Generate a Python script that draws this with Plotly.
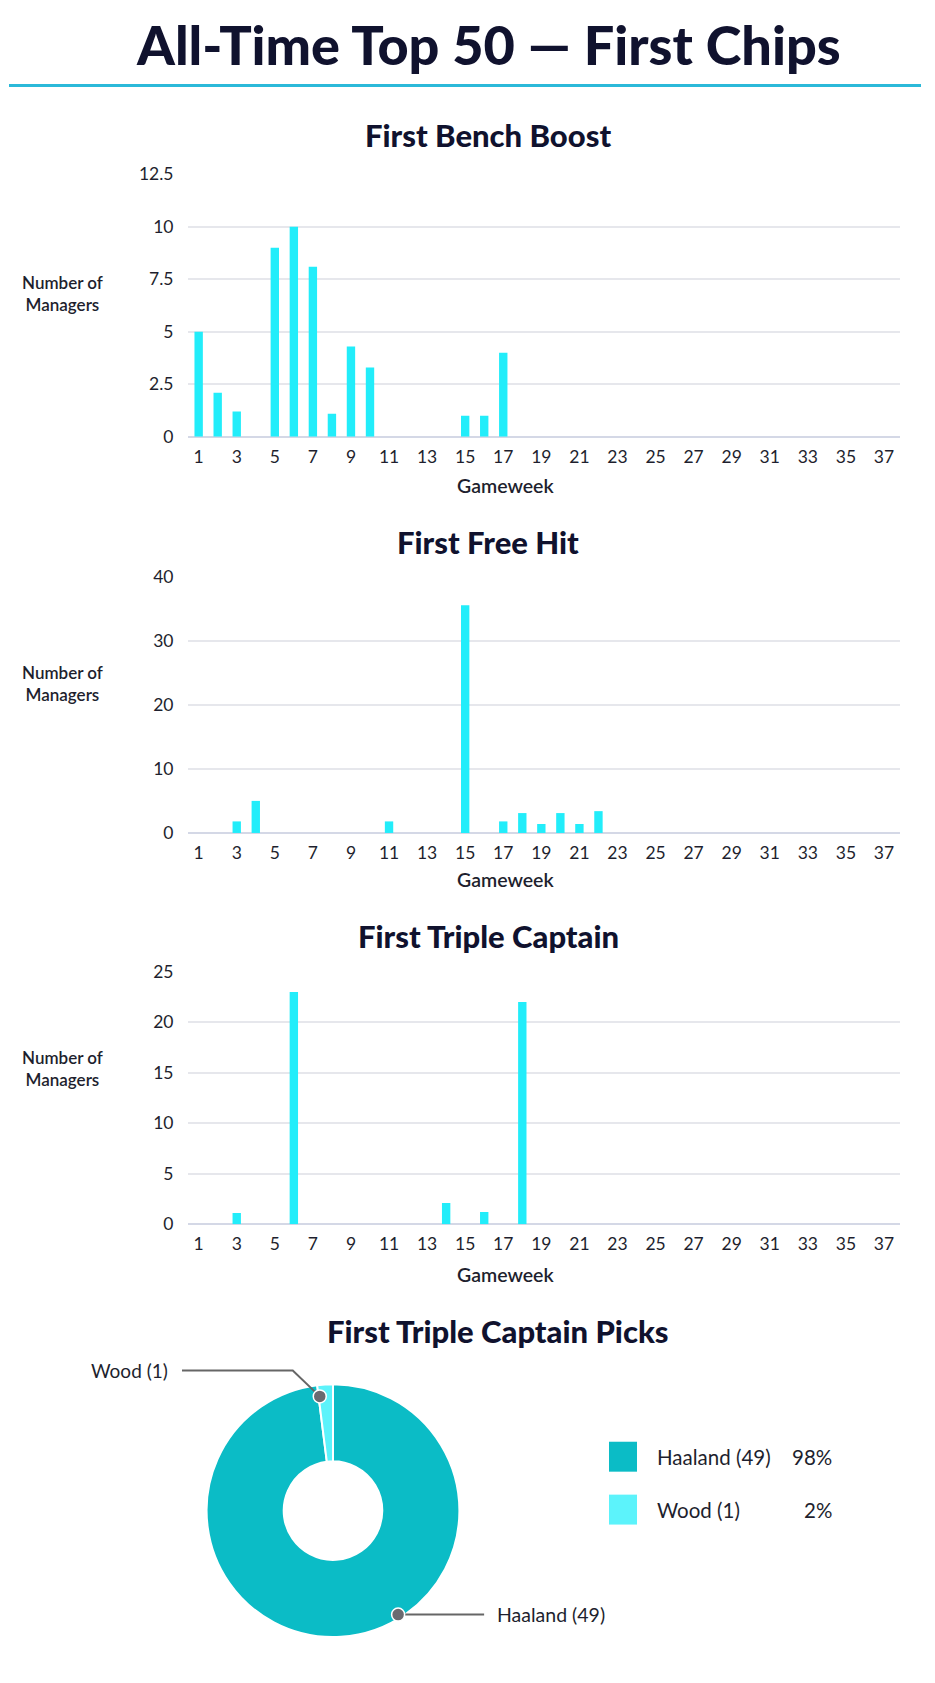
import math
import plotly.graph_objects as go

W, H = 935, 1683

# ---------------- data ----------------
gameweeks = [1, 2, 3, 4, 5, 6, 7, 8, 9, 10, 11, 12, 13, 14, 15, 16, 17, 18, 19,
             20, 21, 22, 23, 24, 25, 26, 27, 28, 29, 30, 31, 32, 33, 34, 35, 36, 37, 38]

bench_boost = [5, 2.1, 1.2, 0, 9, 10, 8.1, 1.1, 4.3, 3.3, 0, 0, 0, 0, 1, 1, 4, 0, 0,
               0, 0, 0, 0, 0, 0, 0, 0, 0, 0, 0, 0, 0, 0, 0, 0, 0, 0, 0]
free_hit = [0, 0, 1.8, 5, 0, 0, 0, 0, 0, 0, 1.8, 0, 0, 0, 35.5, 0, 1.8, 3.1, 1.4,
            3.1, 1.4, 3.4, 0, 0, 0, 0, 0, 0, 0, 0, 0, 0, 0, 0, 0, 0, 0, 0]
triple_captain = [0, 0, 1.1, 0, 0, 23, 0, 0, 0, 0, 0, 0, 0, 2.1, 0, 1.2, 0, 22, 0,
                  0, 0, 0, 0, 0, 0, 0, 0, 0, 0, 0, 0, 0, 0, 0, 0, 0, 0, 0]

x_tick_vals = [1, 3, 5, 7, 9, 11, 13, 15, 17, 19, 21, 23, 25, 27, 29, 31, 33, 35, 37]

chart_titles = ["First Bench Boost", "First Free Hit", "First Triple Captain"]
y_maxes = [12.5, 40, 25]
y_dticks = [2.5, 10, 5]

tc_players = ["Haaland", "Wood"]
tc_counts = [49, 1]

# ---------------- style ----------------
BAR = "#22EDFA"
DARK = "#10122E"
TEXT = "#1E1F2E"
GRID = "#E6E7EC"
ZERO = "#D4D8E6"
PIE_COLORS = ["#0BBCC6", "#5CF3FB"]
FONT = "Lato"
HEAVY = "Lato Black, Lato"

# vertical calibration of the rendered page
OFF, S = 9.4, 0.9895


def px(x):
    return x / W


def py(y):
    return 1 - ((y - OFF) / S) / H


def dpx(d):
    # vertical pixel distance -> figure pixels
    return d / S


# plot area pixel boxes (left, right, top, bottom)
boxes = [(188, 900, 173, 436), (188, 900, 576, 833), (188, 900, 972, 1225)]
title_y = [134, 541, 936]
tick_title_y = [485, 880, 1275]
ylab_y = [292, 683, 1069]

fig = go.Figure()
series = [bench_boost, free_hit, triple_captain]
layout_axes = {}
annotations = []
shapes = []

for i, (vals, box) in enumerate(zip(series, boxes)):
    n = "" if i == 0 else str(i + 1)
    fig.add_trace(go.Bar(
        x=gameweeks, y=vals, width=0.44, marker=dict(color=BAR, line=dict(width=0)),
        xaxis="x" + n, yaxis="y" + n, showlegend=False, hoverinfo="x+y"))
    l, r, t, b = box
    layout_axes["xaxis" + n] = dict(
        domain=[px(l), px(r)], anchor="y" + n, range=[0.44, 37.84],
        tickmode="array", tickvals=x_tick_vals, showgrid=False, zeroline=False,
        showline=False, ticks="outside", ticklen=4, tickcolor="rgba(0,0,0,0)",
        tickfont=dict(family=FONT, size=17.5, color=TEXT))
    layout_axes["yaxis" + n] = dict(
        domain=[py(b), py(t)], anchor="x" + n, range=[0, y_maxes[i]],
        dtick=y_dticks[i], tick0=0, showgrid=True, gridcolor=GRID, gridwidth=1.5,
        zeroline=True, zerolinecolor=ZERO, zerolinewidth=2, showline=False,
        ticks="outside", ticklen=10, tickcolor="rgba(0,0,0,0)",
        tickfont=dict(family=FONT, size=17.5, color=TEXT))
    annotations.append(dict(
        text=chart_titles[i], x=px(488), y=py(title_y[i]),
        xref="paper", yref="paper", xanchor="center", yanchor="middle",
        showarrow=False, font=dict(family=HEAVY, size=31, color=DARK, weight=900)))
    annotations.append(dict(
        text="Gameweek", x=px(506), y=py(tick_title_y[i]), xref="paper", yref="paper",
        xanchor="center", yanchor="middle", showarrow=False,
        font=dict(family=FONT, size=19.5, color=TEXT, weight=600)))
    annotations.append(dict(
        text="Number of<br>Managers", x=px(62), y=py(ylab_y[i]), xref="paper",
        yref="paper", xanchor="center", yanchor="middle", showarrow=False, align="center",
        font=dict(family=FONT, size=17, color=TEXT, weight=600)))

# main title
annotations.append(dict(
    text="All-Time Top 50 — First Chips", x=px(489), y=py(43), xref="paper", yref="paper",
    xanchor="center", yanchor="middle", showarrow=False,
    font=dict(family=HEAVY, size=54, color=DARK, weight=900)))
shapes.append(dict(type="line", xref="paper", yref="paper", x0=px(9), x1=px(921),
                   y0=py(84), y1=py(84), line=dict(color="#2BB9D9", width=3)))

# donut
annotations.append(dict(
    text="First Triple Captain Picks", x=px(498), y=py(1332), xref="paper",
    yref="paper", xanchor="center", yanchor="middle", showarrow=False,
    font=dict(family=HEAVY, size=31, color=DARK, weight=900)))

cx, cy, R = 333, 1512, 128
fig.add_trace(go.Pie(
    labels=[f"{p} ({c})" for p, c in zip(tc_players, tc_counts)], values=tc_counts,
    hole=0.39, sort=False, direction="clockwise", rotation=0,
    marker=dict(colors=PIE_COLORS, line=dict(color="white", width=2)),
    textinfo="none", showlegend=False,
    domain=dict(x=[px(cx - R), px(cx + R)], y=[py(cy + R * S), py(cy - R * S)])))

total = sum(tc_counts)

# callouts: Haaland on the lower right, Wood at its slice middle
cum = 0
mids = []
for c in tc_counts:
    mids.append((cum + c / 2) / total * 360)
    cum += c
callout_angles = [148, mids[1] - 3]
callout_radius = [0.96 * R, 0.9 * R]
for k, (name, cnt) in enumerate(zip(tc_players, tc_counts)):
    a = math.radians(callout_angles[k])
    dx_ = cx + callout_radius[k] * math.sin(a)
    dy_ = cy - callout_radius[k] * math.cos(a)
    label = f"{name} ({cnt})"
    if k == 0:
        ex = dx_ + 86
        shapes.append(dict(type="line", xref="paper", yref="paper", x0=px(dx_), y0=py(dy_),
                           x1=px(ex), y1=py(dy_), line=dict(color="#666", width=2)))
        annotations.append(dict(text=label, x=px(ex + 11), y=py(dy_), xref="paper",
                                yref="paper", xanchor="left", yanchor="middle",
                                showarrow=False, font=dict(family=FONT, size=19.5, color=TEXT)))
    else:
        ky = dy_ - 26
        kx = dx_ - 27
        shapes.append(dict(type="path", xref="paper", yref="paper",
                           path=f"M {px(dx_)} {py(dy_)} L {px(kx)} {py(ky)} L {px(182)} {py(ky)}",
                           line=dict(color="#666", width=2)))
        annotations.append(dict(text=label, x=px(170), y=py(ky), xref="paper",
                                yref="paper", xanchor="right", yanchor="middle",
                                showarrow=False, font=dict(family=FONT, size=19, color=TEXT)))
    rr = 6.5
    shapes.append(dict(type="circle", xref="paper", yref="paper",
                       x0=px(dx_ - rr), x1=px(dx_ + rr), y0=py(dy_ + rr), y1=py(dy_ - rr),
                       fillcolor="#6A6A70", line=dict(color="white", width=1.5)))

# custom legend
leg_y = [1458, 1511]
for k, (name, cnt) in enumerate(zip(tc_players, tc_counts)):
    yc = leg_y[k]
    shapes.append(dict(type="rect", xref="paper", yref="paper", x0=px(609), x1=px(637),
                       y0=py(yc + 15), y1=py(yc - 15), fillcolor=PIE_COLORS[k],
                       line=dict(width=0)))
    annotations.append(dict(text=f"{name} ({cnt})", x=px(655), y=py(yc), xref="paper",
                            yref="paper", xanchor="left", yanchor="middle", showarrow=False,
                            font=dict(family=FONT, size=20.5, color=TEXT)))
    annotations.append(dict(text=f"{round(cnt / total * 100)}%", x=px(834), y=py(yc),
                            xref="paper", yref="paper", xanchor="right", yanchor="middle",
                            showarrow=False, font=dict(family=FONT, size=20.5, color=TEXT)))

fig.update_layout(
    width=W, height=H, margin=dict(l=0, r=0, t=0, b=0),
    paper_bgcolor="white", plot_bgcolor="white", bargap=0.5,
    font=dict(family=FONT, color=TEXT),
    annotations=annotations, shapes=shapes, **layout_axes)

fig.write_html("out.html")
